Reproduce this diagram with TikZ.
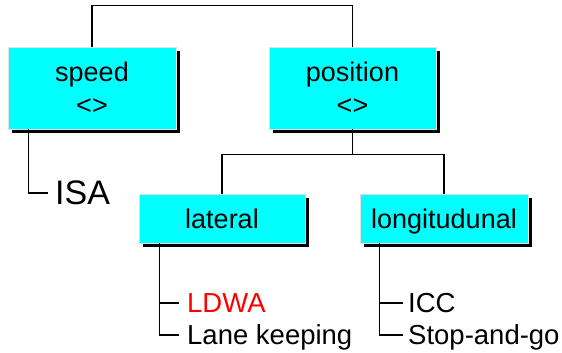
\documentclass[tikz,border=0pt]{standalone}
\usepackage{fontspec}
\setmainfont{Liberation Sans}
\usetikzlibrary{shadows}
\definecolor{boxcyan}{RGB}{0,255,255}
\definecolor{ldwared}{RGB}{255,0,0}
\tikzset{
  catbox/.style={rectangle, fill=boxcyan, draw=black!12, line width=0.8pt,
    inner sep=0pt, align=center,
    font=\fontsize{27}{33}\selectfont,
    drop shadow={fill=black, opacity=1, shadow xshift=3.5pt, shadow yshift=-4pt}},
  subbox/.style={catbox, text depth=0pt},
  leaf/.style={anchor=base west, inner sep=0pt, font=\fontsize{27.5}{33}\selectfont},
  bigleaf/.style={anchor=base west, inner sep=0pt, font=\fontsize{34}{40}\selectfont},
  link/.style={line width=1.6pt, black}
}
\begin{document}
\begin{tikzpicture}[x=1pt, y=1pt]
\useasboundingbox (0,0) rectangle (562,353);
% category boxes
\node[catbox, minimum width=168pt, minimum height=82pt] (speed) at (92,265) {speed\\<>};
\node[catbox, minimum width=167pt, minimum height=82pt] (position) at (352.5,265) {position\\<>};
\node[subbox, minimum width=166pt, minimum height=49pt] (lateral) at (222,134.5) {lateral};
\node[subbox, minimum width=168pt, minimum height=49pt] (longit) at (444,134.5) {longitudunal};
% leaves
\node[bigleaf] (isa) at (55,148) {ISA};
\node[leaf, text=ldwared] (ldwa) at (187,40) {LDWA};
\node[leaf] (lane) at (187,8) {Lane keeping};
\node[leaf] (icc) at (408,40) {ICC};
\node[leaf] (stop) at (408,8) {Stop-and-go};
% tree connectors
\draw[link] (speed.north) -- ++(0,41) coordinate (top) -| (position.north);
\draw[link] (position.south) -- ++(0,-25) coordinate (pj);
\draw[link] (lateral.north) |- (pj) -| (longit.north);
\draw[link] ([xshift=21pt]speed.south west) |- ([xshift=-7pt,yshift=12pt]isa.base west);
\draw[link] ([xshift=21pt]lateral.south west) |- ([xshift=-8pt,yshift=10pt]lane.base west);
\draw[link] ([xshift=-8pt,yshift=10pt]ldwa.base west) -- ++(-19,0);
\draw[link] ([xshift=20pt]longit.south west) |- ([xshift=-5pt,yshift=10pt]stop.base west);
\draw[link] ([xshift=-5pt,yshift=10pt]icc.base west) -- ++(-23,0);
\end{tikzpicture}
\end{document}
